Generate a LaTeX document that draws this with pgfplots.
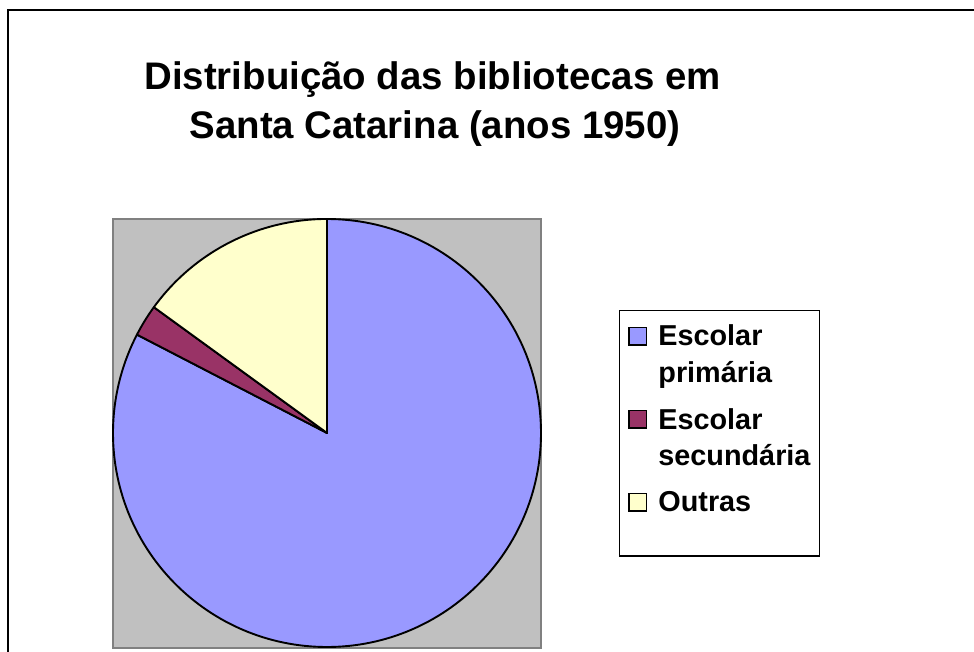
\documentclass[border=0pt]{standalone}
\usepackage{pgfplots}
\pgfplotsset{compat=1.18}
\usetikzlibrary{calc}
\usepackage{fontspec}
\setmainfont{Liberation Sans}
\definecolor{pblue}{HTML}{9999FF}
\definecolor{pred}{HTML}{993366}
\definecolor{pyellow}{HTML}{FFFFCC}
\definecolor{pgray}{HTML}{C0C0C0}
\definecolor{pborder}{HTML}{808080}
% shares (%) of the libraries
\def\vA{82.6}% Escolar primaria
\def\vB{2.4}%  Escolar secundaria
\def\vC{15.0}% Outras
\begin{document}
\begin{tikzpicture}[x=0.5pt,y=-0.5pt]
\path[use as bounding box] (0,0) rectangle (974,652);
\draw[black,line width=0.9pt] (8,652) -- (8,10) -- (974,10);
\node[anchor=base,inner sep=0,font=\bfseries\fontsize{19.2}{23}\selectfont] at (432.5,90) {Distribuição das bibliotecas em};
\node[anchor=base,inner sep=0,font=\bfseries\fontsize{19.2}{23}\selectfont] at (435,138.3) {Santa Catarina (anos 1950)};
\pgfmathsetmacro{\aA}{90-3.6*\vA}
\pgfmathsetmacro{\aB}{\aA-3.6*\vB}
\pgfmathsetmacro{\aC}{\aB-3.6*\vC}
\begin{axis}[at={(56.5pt,-324pt)},anchor=south west,scale only axis,
  width=214pt,height=214.5pt,xmin=-1,xmax=1,ymin=-1.005,ymax=1,
  xtick=\empty,ytick=\empty,clip=false,
  axis background/.style={fill=pgray},
  axis line style={draw=pborder,line width=0.9pt}]
\filldraw[fill=pblue,draw=black,line width=0.95pt,line join=round] (axis cs:0,0) -- (axis cs:0,1) arc[start angle=90,end angle=\aA,radius=107pt] -- cycle;
\filldraw[fill=pred,draw=black,line width=0.95pt,line join=round] (axis cs:0,0) -- ($(axis cs:0,0)+(\aA:107pt)$) arc[start angle=\aA,end angle=\aB,radius=107pt] -- cycle;
\filldraw[fill=pyellow,draw=black,line width=0.95pt,line join=round] (axis cs:0,0) -- ($(axis cs:0,0)+(\aB:107pt)$) arc[start angle=\aB,end angle=\aC,radius=107pt] -- cycle;
\end{axis}
\draw[black,line width=0.9pt] (619.5,310.5) rectangle (819.5,556);
\filldraw[fill=pblue,draw=black,line width=0.8pt] (629,327.5) rectangle (646.5,345);
\filldraw[fill=pred,draw=black,line width=0.8pt] (629,410.5) rectangle (646.5,428);
\filldraw[fill=pyellow,draw=black,line width=0.8pt] (629,493.5) rectangle (646.5,511);
\begin{scope}[every node/.style={anchor=base west,inner sep=0,font=\bfseries\fontsize{14.4}{16}\selectfont}]
\node at (658,345.5) {Escolar};
\node at (658,382) {primária};
\node at (658,429) {Escolar};
\node at (658,465) {secundária};
\node at (658,511) {Outras};
\end{scope}
\end{tikzpicture}
\end{document}
